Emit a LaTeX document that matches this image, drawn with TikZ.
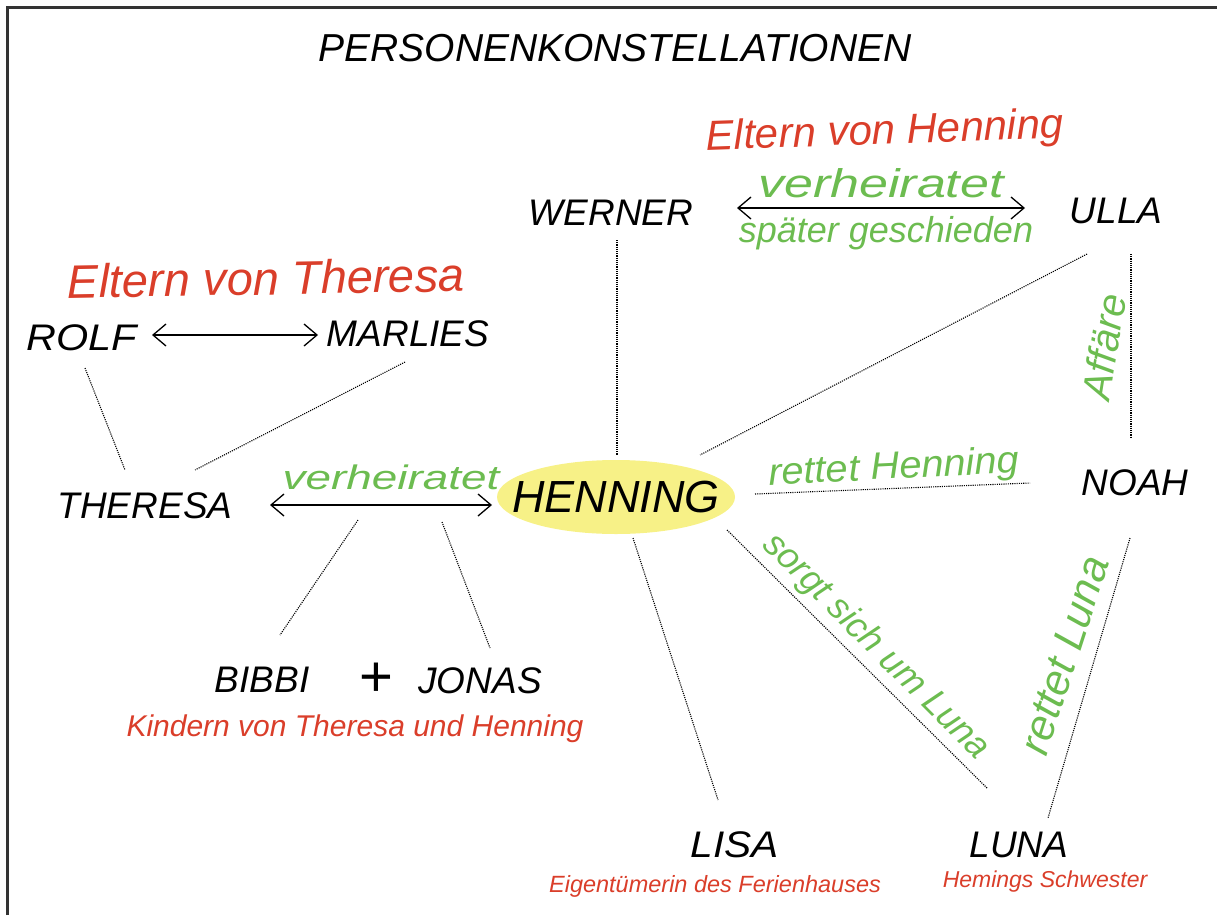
\documentclass[tikz,border=0pt]{standalone}
\usepackage{fontspec}
\setmainfont{Liberation Sans}
\usetikzlibrary{arrows.meta,shapes.geometric}
\definecolor{hred}{RGB}{218,62,42}
\definecolor{hgreen}{RGB}{108,188,80}
\definecolor{hyel}{RGB}{247,241,135}
\begin{document}
\begin{tikzpicture}[x=1pt,y=-1pt,
  person/.style={font=\fontsize{37}{40}\selectfont\itshape, inner sep=0pt},
  rel/.style={text=hgreen, font=\fontsize{#1}{#1}\selectfont\itshape, inner sep=0pt},
  note/.style={text=hred, font=\fontsize{#1}{#1}\selectfont\itshape, inner sep=0pt},
  link/.style={line width=1.1pt, dash pattern=on 1.1pt off 1.1pt},
  pair/.style={{Straight Barb[length=13pt,width=22pt]}-{Straight Barb[length=13pt,width=22pt]}, line width=1.3pt}
]
\useasboundingbox (0,0) rectangle (1217,915);
\draw[line width=3pt, black!80] (7,915) -- (7,8) -- (1217,8);

% title
\node[font=\fontsize{39}{42}\selectfont\itshape, inner sep=0pt] (title) at (615,48) {PERSONENKONSTELLATIONEN};

% highlight
\node[ellipse, fill=hyel, minimum width=238pt, minimum height=74pt, inner sep=0pt] (hl) at (616,497) {};

% persons
\node[person] (werner) at (611,213) {WERNER};
\node[person] (ulla) at (1116,211) {ULLA};
\node[person, xscale=1.12] (rolf) at (82,338) {ROLF};
\node[person] (marlies) at (408,334) {MARLIES};
\node[person] (theresa) at (145,506) {THERESA};
\node[person, font=\fontsize{45}{48}\selectfont\itshape] (henning) at (616,497) {HENNING};
\node[person] (noah) at (1135,483) {NOAH};
\node[person] (bibbi) at (262,680) {BIBBI};
\node[person, font=\fontsize{58}{60}\selectfont] (plus) at (376,680) {+};
\node[person] (jonas) at (480,681) {JONAS};
\node[person, xscale=1.1] (lisa) at (735,845) {LISA};
\node[person] (luna) at (1019,845) {LUNA};

% red notes
\node[note=42, rotate=2] (eltH) at (885,133) {Eltern von Henning};
\node[note=47, rotate=1] (eltT) at (266,278) {Eltern von Theresa};
\node[note=30] (kids) at (355,729) {Kindern von Theresa und Henning};
\node[note=23.5] (lisanote) at (715,886) {Eigentümerin des Ferienhauses};
\node[note=23] (lunanote) at (1045,882) {Hemings Schwester};

% pair arrows
\coordinate (wernerE) at (737,208);
\coordinate (ullaW) at (1025,208);
\draw[pair] (wernerE) -- (ullaW);
\node[rel=40, xscale=1.3] (verh1) at (881,183) {verheiratet};
\node[rel=36] (gesch) at (886,233) {später geschieden};

\coordinate (rolfE) at (152,335);
\coordinate (marliesW) at (318,335);
\draw[pair] (rolfE) -- (marliesW);

\coordinate (theresaE) at (270,505);
\coordinate (henningW) at (492,505);
\draw[pair] (theresaE) -- (henningW);
\node[rel=34, xscale=1.35] (verh2) at (391,477) {verheiratet};

% dotted links
\coordinate (wernerS) at (617,240);
\coordinate (henningN) at (617,455);
\draw[link] (wernerS) -- (henningN);

\coordinate (ullaSW) at (1087,254);
\coordinate (henningNE) at (700,455);
\draw[link] (ullaSW) -- (henningNE);

\coordinate (ullaS) at (1131,254);
\coordinate (noahN) at (1131,437);
\draw[link] (ullaS) -- (noahN);
\node[rel=40, rotate=81] (affaere) at (1104,347) {Affäre};

\coordinate (rolfS) at (85,368);
\coordinate (theresaNW) at (125,470);
\draw[link] (rolfS) -- (theresaNW);

\coordinate (marliesS) at (405,362);
\coordinate (theresaNE) at (195,470);
\draw[link] (marliesS) -- (theresaNE);

\coordinate (pairL) at (358,520);
\coordinate (bibbiN) at (280,635);
\draw[link] (pairL) -- (bibbiN);

\coordinate (pairR) at (442,522);
\coordinate (jonasN) at (490,648);
\draw[link] (pairR) -- (jonasN);

\coordinate (henningS) at (633,538);
\coordinate (lisaN) at (718,800);
\draw[link] (henningS) -- (lisaN);

\coordinate (henningSE) at (727,530);
\coordinate (lunaNW) at (987,788);
\draw[link] (henningSE) -- (lunaNW);
\node[rel=36, rotate=-45] (sorgt) at (876,647) {sorgt sich um Luna};

\coordinate (henningE) at (755,494);
\coordinate (noahW) at (1030,483);
\draw[link] (henningE) -- (noahW);
\node[rel=38, xscale=1.05, rotate=3] (rettetH) at (894,469) {rettet Henning};

\coordinate (noahS) at (1130,538);
\coordinate (lunaNE) at (1048,818);
\draw[link] (noahS) -- (lunaNE);
\node[rel=43, rotate=72] (rettetL) at (1064,655) {rettet Luna};
\end{tikzpicture}
\end{document}
